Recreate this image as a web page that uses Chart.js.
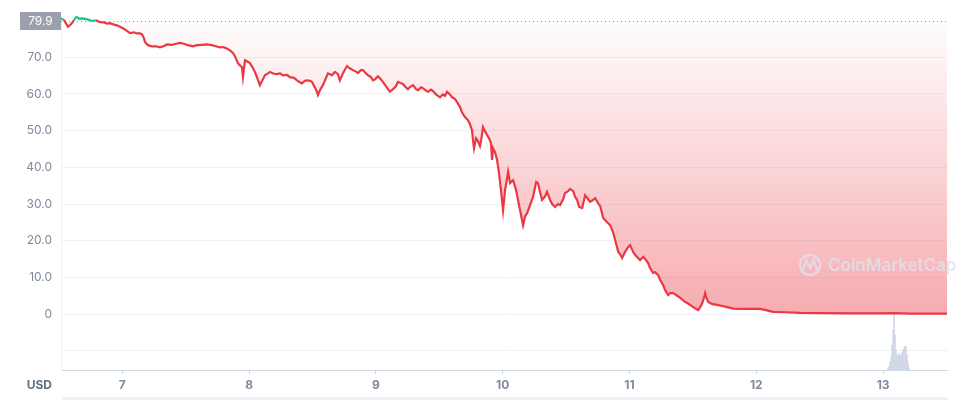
<!DOCTYPE html>
<html>
<head>
<meta charset="utf-8">
<script src="https://cdn.jsdelivr.net/npm/chart.js@4"></script>
<style>
  body { margin: 0; background: #fff; }
  #wrap { width: 959px; height: 400px; }
</style>
</head>
<body>
<div id="wrap"><canvas id="chart" width="959" height="400"></canvas></div>
<script>
// price series: day of month -> USD
const days = [
  6.517, 6.540, 6.572, 6.601, 6.619, 6.640, 6.659, 6.682, 6.719, 6.745, 6.767, 6.790, 6.824, 6.856, 6.879, 6.903, 6.935, 6.958, 6.982,
  7.006, 7.037, 7.061, 7.092, 7.116, 7.139, 7.155, 7.171, 7.179, 7.203, 7.234, 7.266, 7.297, 7.329, 7.352, 7.392, 7.423, 7.455, 7.486,
  7.518, 7.557, 7.589, 7.628, 7.668, 7.707, 7.739, 7.770, 7.794, 7.818, 7.849, 7.873, 7.889, 7.912, 7.928, 7.944, 7.952, 7.968, 7.983,
  8.007, 8.031, 8.047, 8.062, 8.086, 8.102, 8.125, 8.149, 8.165, 8.196, 8.220, 8.244, 8.267, 8.299, 8.322, 8.354, 8.378, 8.401, 8.417,
  8.441, 8.456, 8.480, 8.496, 8.519, 8.535, 8.543, 8.559, 8.582, 8.606, 8.622, 8.638, 8.653, 8.677, 8.701, 8.716, 8.740, 8.772, 8.795,
  8.819, 8.843, 8.859, 8.882, 8.898, 8.922, 8.938, 8.961, 8.977, 8.993,
  9.016, 9.032, 9.056, 9.080, 9.111, 9.135, 9.158, 9.174, 9.198, 9.214, 9.237, 9.253, 9.269, 9.293, 9.316, 9.332, 9.356, 9.371, 9.395,
  9.411, 9.435, 9.450, 9.474, 9.506, 9.529, 9.545, 9.561, 9.585, 9.600, 9.624, 9.640, 9.663, 9.679, 9.703, 9.727, 9.742, 9.758, 9.766,
  9.774, 9.790, 9.806, 9.821, 9.829, 9.845, 9.861, 9.877, 9.893, 9.908, 9.916, 9.924, 9.940, 9.956, 9.971, 9.987,
  10.003, 10.019, 10.043, 10.058, 10.082, 10.106, 10.129, 10.145, 10.161, 10.177, 10.193, 10.216, 10.240, 10.264, 10.279, 10.295,
  10.311, 10.335, 10.350, 10.374, 10.390, 10.414, 10.437, 10.453, 10.477, 10.492, 10.516, 10.532, 10.556, 10.571, 10.587, 10.603,
  10.627, 10.650, 10.674, 10.690, 10.714, 10.729, 10.753, 10.769, 10.793, 10.816, 10.848, 10.871, 10.887, 10.911, 10.926, 10.942,
  10.966, 10.990, 11.005, 11.029, 11.045, 11.068, 11.084, 11.108, 11.124, 11.147, 11.163, 11.187, 11.203, 11.226, 11.242, 11.266,
  11.281, 11.305, 11.321, 11.345, 11.368, 11.400, 11.431, 11.455, 11.479, 11.502, 11.526, 11.542, 11.558, 11.574, 11.589, 11.597,
  11.605, 11.621, 11.653, 11.692, 11.731, 11.771, 11.818, 11.873, 11.952, 12.031, 12.085, 12.132, 12.227, 12.345, 12.503, 12.740,
  12.976, 13.078, 13.212, 13.504
];
const prices = [
  80.6, 80.2, 78.3, 79.2, 80.1, 81.2, 80.5, 80.6, 80.4, 80.1, 79.9, 80.1, 79.6, 79.5, 79.2, 79.3, 78.9, 78.7, 78.3,
  77.9, 77.2, 76.6, 76.8, 76.5, 76.5, 76.3, 75.2, 74.2, 73.3, 73.0, 73.0, 72.7, 73.1, 73.5, 73.4, 73.7, 73.9, 73.7,
  73.3, 73.0, 73.3, 73.4, 73.5, 73.3, 73.0, 72.7, 72.8, 72.5, 71.9, 71.2, 70.3, 68.4, 67.8, 67.3, 64.6, 69.2, 68.9,
  68.4, 67.0, 65.9, 64.6, 62.4, 63.5, 65.1, 65.6, 66.0, 65.5, 65.4, 65.6, 65.1, 65.2, 64.6, 64.4, 63.7, 63.2, 62.9,
  63.6, 63.7, 63.6, 63.3, 61.8, 60.6, 59.7, 61.0, 62.4, 64.3, 65.6, 65.4, 65.1, 66.0, 65.4, 63.7, 65.6, 67.6, 67.0,
  66.5, 66.1, 65.7, 66.5, 66.5, 65.6, 65.1, 64.6, 63.7, 64.0,
  64.8, 64.3, 63.3, 62.1, 60.6, 61.3, 62.1, 63.3, 62.9, 62.7, 61.8, 61.3, 61.9, 62.4, 61.4, 61.0, 61.8, 61.6, 60.9,
  60.6, 61.2, 60.8, 59.9, 59.1, 59.9, 59.5, 60.6, 59.8, 59.1, 58.6, 57.8, 56.5, 55.0, 53.7, 52.8, 51.8, 50.1, 47.4,
  45.2, 47.9, 47.1, 45.8, 47.1, 51.0, 49.8, 48.8, 47.9, 46.6, 42.0, 45.2, 44.1, 42.0, 38.4, 33.8,
  28.3, 33.8, 38.8, 35.7, 36.5, 33.8, 29.7, 27.0, 24.2, 26.7, 27.5, 29.7, 32.0, 36.0, 35.7, 33.2,
  31.1, 32.1, 33.3, 31.1, 30.0, 29.2, 30.0, 29.7, 31.3, 33.0, 33.5, 34.1, 33.5, 32.0, 31.1, 29.2,
  28.9, 32.4, 31.3, 30.6, 31.1, 31.6, 30.2, 29.4, 26.2, 25.3, 24.2, 22.3, 20.2, 17.0, 16.3, 15.3,
  17.0, 18.3, 18.8, 16.9, 16.1, 15.3, 14.7, 15.6, 15.0, 13.9, 12.5, 11.2, 11.4, 10.6, 9.3, 7.9,
  6.5, 5.2, 5.7, 5.7, 5.2, 4.4, 3.5, 3.0, 2.5, 1.9, 1.4, 1.1, 1.9, 3.0, 4.6, 5.7,
  4.6, 3.3, 2.7, 2.5, 2.2, 1.9, 1.5, 1.4, 1.4, 1.4, 1.0, 0.6, 0.5, 0.35, 0.27, 0.19,
  0.19, 0.25, 0.14, 0.13
];
const openPrice = 79.9;

// volume (relative units) around the 13th
const volDays = [13.039, 13.047, 13.055, 13.063, 13.071, 13.079, 13.087, 13.094, 13.102, 13.110, 13.118,
  13.126, 13.134, 13.142, 13.150, 13.157, 13.165, 13.173, 13.181, 13.189, 13.197, 13.205];
const volumes = [2, 4, 8, 13, 25, 40, 55, 35, 20, 15, 15, 17, 14, 15, 18, 20, 22, 24, 23, 15, 7, 2];

const xTicks = [7, 8, 9, 10, 11, 12, 13];
const yTicks = [-10, 0, 10, 20, 30, 40, 50, 60, 70];

const RED = "#ea3943";
const GREEN = "#16c784";

const canvas = document.getElementById("chart");
const ctx = canvas.getContext("2d");

const pinkFill = ctx.createLinearGradient(0, 20, 0, 314);
pinkFill.addColorStop(0, "rgba(234,57,67,0.01)");
pinkFill.addColorStop(1, "rgba(234,57,67,0.42)");

const decorations = {
  id: "decorations",
  beforeDatasetsDraw(chart) {
    const c = chart.ctx;
    const area = chart.chartArea;
    const y = chart.scales.y.getPixelForValue(openPrice);
    c.save();
    c.strokeStyle = "#8d94a3";
    c.lineWidth = 1;
    c.setLineDash([1, 3]);
    c.beginPath();
    c.moveTo(area.left, Math.round(y) + 0.5);
    c.lineTo(area.right, Math.round(y) + 0.5);
    c.stroke();
    c.restore();
  },
  afterDraw(chart) {
    const c = chart.ctx;
    const area = chart.chartArea;
    const y = chart.scales.y.getPixelForValue(openPrice);
    c.save();
    // open price label
    c.fillStyle = "#9aa0ad";
    c.fillRect(20, Math.round(y) - 9, area.left - 20, 18);
    c.fillStyle = "#ffffff";
    c.font = "12px Inter";
    c.textAlign = "center";
    c.textBaseline = "middle";
    c.fillText(openPrice.toFixed(1), (20 + area.left) / 2, Math.round(y) + 0.5);

    // currency label
    c.fillStyle = "#616e85";
    c.font = "bold 12px Inter";
    c.textAlign = "right";
    c.fillText("USD", 52, 385);

    // navigator strip
    c.fillStyle = "#eff2f5";
    c.fillRect(area.left + 1, 397, area.right - area.left, 3);

    // watermark
    c.strokeStyle = "rgba(222,226,236,0.8)";
    c.fillStyle = "rgba(222,226,236,0.8)";
    c.lineWidth = 2.2;
    c.beginPath();
    c.arc(810, 265, 10, 0, Math.PI * 2);
    c.stroke();
    c.beginPath();
    c.moveTo(803, 270);
    c.lineTo(806.5, 260);
    c.lineTo(810, 268);
    c.lineTo(813.5, 260);
    c.lineTo(817, 270);
    c.stroke();
    c.font = "600 17px Inter";
    c.textAlign = "left";
    c.fillText("CoinMarketCap", 828, 266);
    c.restore();
  }
};

const chart = new Chart(ctx, {
  data: {
    datasets: [{
      type: "line",
      label: "Price",
      data: days.map((d, i) => ({ x: d, y: prices[i] })),
      yAxisID: "y",
      borderColor: RED,
      borderWidth: 2.2,
      pointRadius: 0,
      tension: 0,
      fill: { target: { value: openPrice }, above: "rgba(22,199,132,0.08)", below: pinkFill },
      segment: {
        borderColor: c => (c.p0.parsed.y >= openPrice && c.p1.parsed.y >= openPrice) ? GREEN : RED
      },
      order: 1
    }, {
      type: "bar",
      label: "Volume",
      data: volDays.map((d, i) => ({ x: d, y: volumes[i] })),
      yAxisID: "vol",
      backgroundColor: "#cfd6e4",
      barPercentage: 1,
      categoryPercentage: 1,
      order: 2
    }]
  },
  options: {
    responsive: false,
    animation: false,
    layout: { padding: { top: 5, right: 12, left: 0, bottom: 0 } },
    plugins: { legend: { display: false }, tooltip: { enabled: false } },
    scales: {
      x: {
        type: "linear",
        offset: false,
        min: 6.517,
        max: 13.504,
        afterBuildTicks: s => { s.ticks = xTicks.map(v => ({ value: v })); },
        afterFit: s => { s.height = 30; },
        grid: { drawOnChartArea: false, tickLength: 4, color: "#cfd6e4", offset: false },
        border: { color: "#cfd6e4" },
        ticks: { color: "#808a9d", font: { family: "Inter", size: 12, weight: "bold" }, padding: 4 }
      },
      y: {
        type: "linear",
        min: -15.25,
        max: 81.2,
        afterBuildTicks: s => { s.ticks = yTicks.map(v => ({ value: v })); },
        afterFit: s => { s.width = 61; },
        grid: { color: "#eff2f5", drawTicks: false },
        border: { color: "#eff2f5" },
        ticks: {
          color: "#808a9d",
          font: { family: "Inter", size: 12 },
          padding: 9,
          callback: v => v < 0 ? "" : (v === 0 ? "0" : v.toFixed(1))
        }
      },
      vol: {
        type: "linear",
        display: false,
        min: 0,
        max: 354
      }
    }
  },
  plugins: [decorations]
});
</script>
</body>
</html>
